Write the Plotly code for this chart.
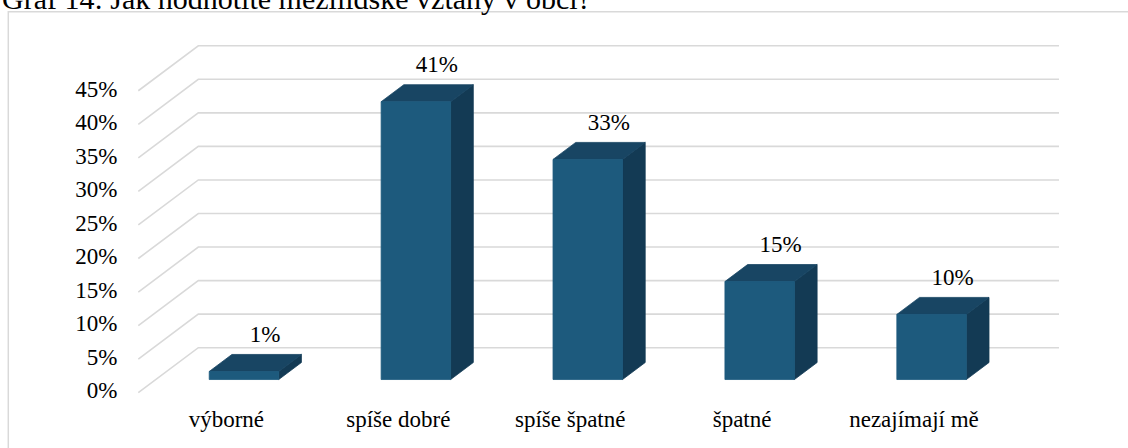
import plotly.graph_objects as go

# ---------------- data ----------------
title_text = "Graf 14: Jak hodnotíte mezilidské vztahy v obci?"
categories = ["výborné", "spíše dobré", "spíše špatné", "špatné", "nezajímají mě"]
values = [1.2, 41.4, 32.8, 14.6, 9.7]          # percent
value_labels = ["1%", "41%", "33%", "15%", "10%"]
tick_values = [0, 5, 10, 15, 20, 25, 30, 35, 40, 45]
tick_labels = ["0%", "5%", "10%", "15%", "20%", "25%", "30%", "35%", "40%", "45%"]

# ---------------- geometry / style (not data) ----------------
W, H = 1128, 448
PX_CAT = 171.9          # pixels per category step
PX_PCT = 6.71           # pixels per percent
X0_PX, Y0_PX = 226.4, 392.7   # pixel of (category 0, 0%) on the front plane

DX = 60 / PX_CAT        # full depth shift in x (data units)
DY = 45 / PX_PCT        # full depth shift in y (data units)
X_LEFT = (138.3 - X0_PX) / PX_CAT
X_RIGHT = (999.0 - X0_PX) / PX_CAT
BAR_W = 69.5 / PX_CAT
F0, F1 = 0.293, 0.671   # bar front / back depth fraction

FONT = "Liberation Serif"
C_FRONT = "#1d5a7d"
C_TOP = "#184563"
C_SIDE = "#133a54"
C_GRID = "#d9d9d9"

fig = go.Figure()

# gridlines (side wall + back wall)
gx, gy = [], []
for t in tick_values:
    gx += [X_LEFT, X_LEFT + DX, X_RIGHT + DX, None]
    gy += [t, t + DY, t + DY, None]
fig.add_trace(go.Scatter(x=gx, y=gy, mode="lines",
                         line=dict(color=C_GRID, width=1.6),
                         hoverinfo="skip", showlegend=False))

# bars (3D boxes)
fx, fy, tx, ty, sx, sy = [], [], [], [], [], []
ddx, ddy = (F1 - F0) * DX, (F1 - F0) * DY
for i, v in enumerate(values):
    c = i + F0 * DX
    xl, xr = c - BAR_W / 2, c + BAR_W / 2
    yb = F0 * DY
    yt = v + F0 * DY
    fx += [xl, xr, xr, xl, xl, None]
    fy += [yb, yb, yt, yt, yb, None]
    tx += [xl, xr, xr + ddx, xl + ddx, xl, None]
    ty += [yt, yt, yt + ddy, yt + ddy, yt, None]
    sx += [xr, xr + ddx, xr + ddx, xr, xr, None]
    sy += [yb, yb + ddy, yt + ddy, yt, yb, None]

for xs, ys, col in [(sx, sy, C_SIDE), (tx, ty, C_TOP), (fx, fy, C_FRONT)]:
    fig.add_trace(go.Scatter(x=xs, y=ys, mode="lines", fill="toself",
                             fillcolor=col, line=dict(color=col, width=0.8),
                             hoverinfo="skip", showlegend=False))

# value labels
lab_x = [i + F0 * DX + 21 / PX_CAT for i in range(len(values))]
lab_y = [v + F0 * DY + 35.5 / PX_PCT for v in values]
fig.add_trace(go.Scatter(x=lab_x, y=lab_y, mode="text", text=value_labels,
                         textposition="middle center",
                         textfont=dict(family=FONT, size=23, color="#000000"),
                         hoverinfo="skip", showlegend=False, cliponaxis=False))

# y tick labels
fig.add_trace(go.Scatter(x=[X_LEFT - 21 / PX_CAT] * len(tick_values), y=tick_values,
                         mode="text", text=tick_labels, textposition="middle left",
                         textfont=dict(family=FONT, size=23, color="#000000"),
                         hoverinfo="skip", showlegend=False, cliponaxis=False))

# category labels
fig.add_trace(go.Scatter(x=list(range(len(categories))),
                         y=[(Y0_PX - 421) / PX_PCT] * len(categories),
                         mode="text", text=categories, textposition="middle center",
                         textfont=dict(family=FONT, size=23, color="#000000"),
                         hoverinfo="skip", showlegend=False, cliponaxis=False))

fig.update_layout(
    width=W, height=H,
    margin=dict(l=0, r=0, t=0, b=0),
    paper_bgcolor="white", plot_bgcolor="white",
    xaxis=dict(range=[-X0_PX / PX_CAT, (W - X0_PX) / PX_CAT], visible=False, fixedrange=True),
    yaxis=dict(range=[(Y0_PX - H) / PX_PCT, Y0_PX / PX_PCT], visible=False, fixedrange=True),
    shapes=[dict(type="rect", xref="paper", yref="paper",
                 x0=8.3 / W, x1=1.2, y0=-0.2, y1=1 - 11.7 / H,
                 line=dict(color="#d9d9d9", width=1.5), fillcolor="rgba(0,0,0,0)",
                 layer="below")],
    annotations=[dict(text=title_text, xref="paper", yref="paper",
                      x=0, y=1 - 17 / H, xanchor="left", yanchor="bottom",
                      showarrow=False,
                      font=dict(family=FONT, size=30, color="#000000"))],
)

fig.write_html("out.html",
               config={"displayModeBar": False, "staticPlot": True},
               post_script="document.body.style.margin='0px';"
                           "document.body.style.overflow='hidden';")
